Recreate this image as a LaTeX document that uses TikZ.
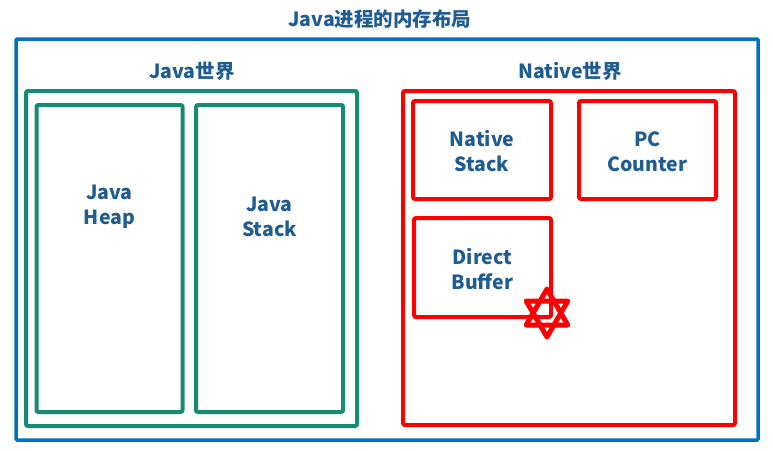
\documentclass[tikz,border=0pt]{standalone}
\usepackage{fontspec}
\setmainfont{Noto Sans CJK SC}
\definecolor{pblue}{RGB}{0,112,192}
\definecolor{jgreen}{RGB}{22,138,114}
\definecolor{nred}{RGB}{255,0,0}
\definecolor{txtblue}{RGB}{31,92,146}
\tikzset{
  txt/.style={text=txtblue, font=\bfseries\fontsize{19.5}{25}\selectfont, align=center, inner sep=0pt},
  pbox/.style={draw=pblue, line width=3.5pt, inner sep=0pt, rounded corners=1pt},
  jbox/.style={draw=jgreen, line width=4pt, inner sep=0pt, rounded corners=2pt},
  nbox/.style={draw=nred, line width=4pt, inner sep=0pt, rounded corners=2pt, txt},
}
\begin{document}
\begin{tikzpicture}[x=1pt, y=-1pt]
\useasboundingbox (0,0) rectangle (773,450);
% outer process box
\node[pbox, minimum width=742, minimum height=401] (proc) at (387,239.5) {};
\node[txt] (title) at (380,19) {Java进程的内存布局};
% java side
\node[jbox, minimum width=331, minimum height=335] (jworld) at (191.5,258.5) {};
\node[txt] (jlabel) at (192,71) {Java世界};
\node[jbox, minimum width=146, minimum height=307] (heap) at (109.5,258.5) {};
\node[jbox, minimum width=147, minimum height=307] (jstack) at (269.5,258.5) {};
\node[txt] (heaptxt) at (109.5,207) {Java\\Heap};
\node[txt] (jstacktxt) at (269.5,217) {Java\\Stack};
% native side
\node[draw=nred, line width=4pt, inner sep=0pt, rounded corners=2pt,
      minimum width=332, minimum height=334] (nworld) at (569,258) {};
\node[txt] (nlabel) at (570,71) {Native世界};
\node[nbox, minimum width=138, minimum height=98] (nstack) at (482,150) {};
\node[nbox, minimum width=137, minimum height=98] (pc) at (647.5,150) {};
\node[nbox, minimum width=137, minimum height=99] (dbuf) at (482.5,267.5) {};
\node[txt] at ([yshift=-1.5pt]nstack.center) {Native\\Stack};
\node[txt] at ([yshift=-1.5pt]pc.center) {PC\\Counter};
\node[txt] at ([yshift=-1.5pt]dbuf.center) {Direct\\Buffer};
% star mark
\coordinate (star) at (547,313);
\draw[nred, line width=5pt, line join=round]
  ([shift={(90:24)}]star) -- ([shift={(210:24)}]star) -- ([shift={(330:24)}]star) -- cycle
  ([shift={(270:24)}]star) -- ([shift={(30:24)}]star) -- ([shift={(150:24)}]star) -- cycle;
\end{tikzpicture}
\end{document}
